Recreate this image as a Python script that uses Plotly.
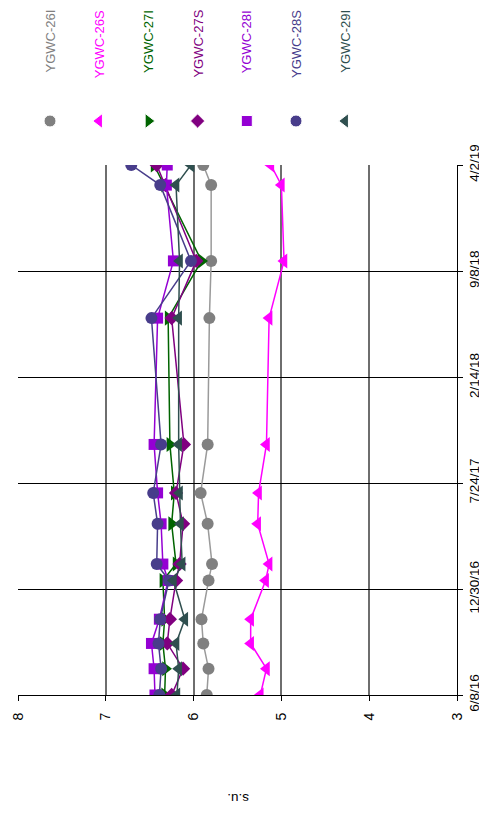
import plotly.graph_objects as go

# sampling dates (chart is drawn turned 90 degrees: dates run up the right side)
dates = ['2016-06-08', '2016-07-29', '2016-09-16', '2016-11-02', '2017-01-16',
         '2017-02-17', '2017-05-06', '2017-07-05', '2017-10-07', '2018-06-09',
         '2018-09-28', '2019-02-22', '2019-04-02']

ygwc_26i = [5.85, 5.83, 5.89, 5.91, 5.83, 5.79, 5.84, 5.92, 5.84, 5.82, 5.80, 5.80, 5.89]
ygwc_26s = [5.24, 5.17, 5.35, 5.35, 5.18, 5.14, 5.27, 5.26, 5.17, 5.14, 4.97, 5.00, 5.12]
ygwc_27i = [6.33, 6.32, 6.35, 6.33, 6.35, 6.20, 6.25, 6.22, 6.27, 6.29, 5.91, 6.33, 6.45]
ygwc_27s = [6.25, 6.12, 6.30, 6.27, 6.20, 6.16, 6.12, 6.20, 6.11, 6.25, 5.97, 6.32, 6.42]
ygwc_28i = [6.44, 6.45, 6.48, 6.39, 6.29, 6.35, 6.37, 6.41, 6.45, 6.41, 6.23, 6.31, 6.30]
ygwc_28s = [6.39, 6.37, 6.40, 6.38, 6.28, 6.42, 6.41, 6.46, 6.37, 6.48, 6.03, 6.38, 6.71]
ygwc_29i = [6.19, 6.17, 6.20, 6.10, 6.23, 6.13, 6.15, 6.16, 6.17, 6.17, 6.16, 6.20, 6.03]

names = ['YGWC-26I', 'YGWC-26S', 'YGWC-27I', 'YGWC-27S', 'YGWC-28I', 'YGWC-28S', 'YGWC-29I']
values = [ygwc_26i, ygwc_26s, ygwc_27i, ygwc_27s, ygwc_28i, ygwc_28s, ygwc_29i]

date_ticks = ['2016-06-08', '2016-12-30', '2017-07-24', '2018-02-14', '2018-09-08', '2019-04-02']
date_labels = ['6/8/16', '12/30/16', '7/24/17', '2/14/18', '9/8/18', '4/2/19']
su_ticks = [8, 7, 6, 5, 4, 3]

marker_colors = ['#808080', '#ff00ff', '#006400', '#800080', '#9400d3', '#483d8b', '#2f4f4f']
line_colors = ['#9a9a9a', '#ff00ff', '#006400', '#800080', '#9400d3', '#483d8b', '#2f4f4f']
symbols = ['circle', 'triangle-left', 'triangle-right', 'diamond', 'square', 'circle', 'triangle-left']
sizes = [12, 13, 13, 11, 11, 12, 13]

# the page has an 8px body margin, so the figure is 8px smaller and everything moves up/left
W, H = 479, 811
FONT = 'Liberation Sans, Arial, sans-serif'

fig = go.Figure()

for i in range(len(names)):
    fig.add_trace(go.Scatter(
        x=values[i], y=dates, mode='lines+markers', name=names[i],
        line=dict(color=line_colors[i], width=1.5),
        marker=dict(symbol=symbols[i], size=sizes[i], color=marker_colors[i]),
        showlegend=False))

# legend markers, drawn on their own small axis strip at the top
fig.add_trace(go.Scatter(
    x=list(range(len(names))), y=[0] * len(names), mode='markers',
    xaxis='x2', yaxis='y2', showlegend=False, hoverinfo='skip',
    marker=dict(symbol=symbols, size=sizes, color=marker_colors, opacity=1)))

# legend labels
for i in range(len(names)):
    fig.add_annotation(x=i, xref='x2', y=1, yref='paper',
                       text=names[i], textangle=-90, showarrow=False,
                       xanchor='center', yanchor='top',
                       font=dict(size=13, color=marker_colors[i], family=FONT))

fig.add_annotation(x=230 / W, y=1 - 800 / H, xref='paper', yref='paper',
                   text='s.u.', textangle=180, showarrow=False,
                   font=dict(size=13.5, color='black', family=FONT))

# legend strip: first entry at 42px, spacing ~49px
step = 49.2
r0 = -42 / step
fig.update_layout(
    width=W, height=H,
    margin=dict(l=0, r=0, t=0, b=0),
    paper_bgcolor='white', plot_bgcolor='white',
    font=dict(family=FONT, size=14, color='black'),
    xaxis=dict(domain=[10 / W, 449 / W], range=[8, 3], tickvals=su_ticks,
               tickangle=-90, ticks='outside', ticklen=5, tickcolor='black',
               showline=True, linecolor='black', linewidth=1,
               showgrid=True, gridcolor='#6e6e6e', gridwidth=2,
               zeroline=False, ticklabelstandoff=6, automargin=False),
    yaxis=dict(domain=[1 - 687 / H, 1 - 157 / H], type='date',
               range=['2016-06-08', '2019-04-02'], side='right',
               tickvals=date_ticks, ticktext=date_labels, tickangle=-90,
               tickfont=dict(size=13.5),
               ticks='outside', ticklen=5, tickcolor='black',
               showline=True, linecolor='black', linewidth=1,
               showgrid=True, gridcolor='black', gridwidth=1,
               zeroline=False, ticklabelstandoff=0, automargin=False),
    xaxis2=dict(domain=[0, 1], anchor='y2', range=[r0, r0 + W / step],
                visible=False),
    yaxis2=dict(domain=[1 - 132 / H, 1 - 94 / H], anchor='x2', range=[-1, 1],
                visible=False),
)

fig.write_html("out.html")
